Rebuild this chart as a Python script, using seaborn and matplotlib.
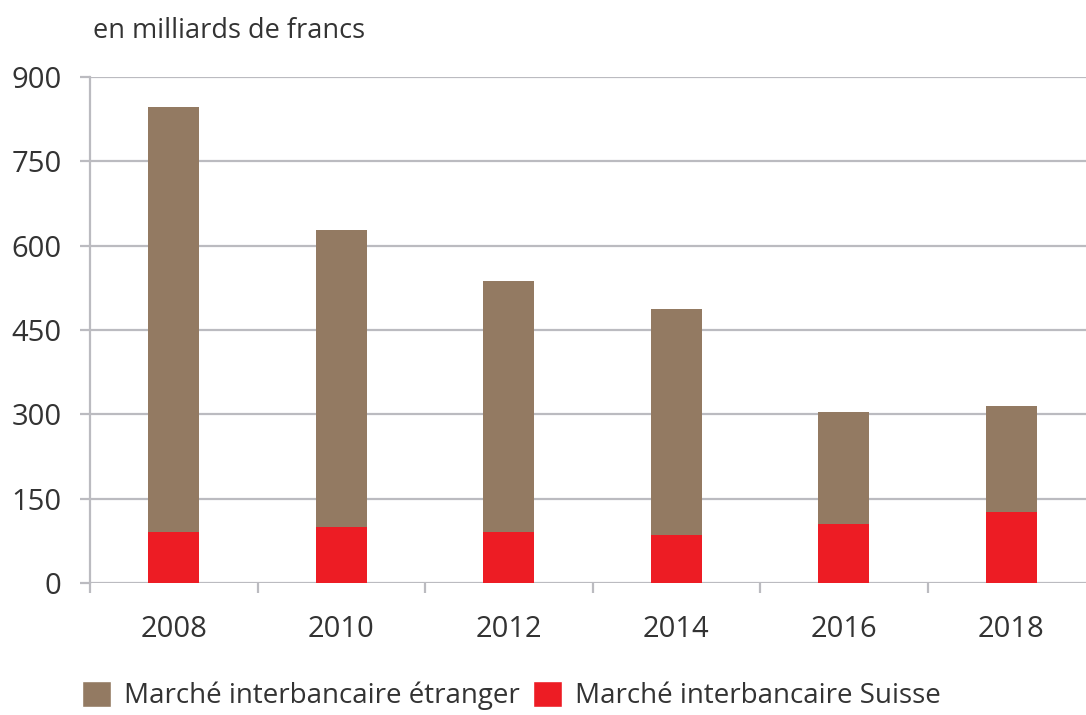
import matplotlib
matplotlib.use("Agg")
import matplotlib.pyplot as plt
import seaborn as sns
import pandas as pd
from matplotlib.patches import Patch

years = ["2008", "2010", "2012", "2014", "2016", "2018"]
suisse = [90, 99, 90, 85, 105, 126]
etranger = [756, 528, 447, 402, 199, 188]

BROWN = "#937a62"
RED = "#ed1c24"
GRID = "#bbbbc0"
TXT = "#333333"

df = pd.DataFrame({"year": years, "suisse": suisse, "etranger": etranger})
df["total"] = df["suisse"] + df["etranger"]

sns.set_style("white")
plt.rcParams["font.family"] = ["Open Sans", "DejaVu Sans"]

fig = plt.figure(figsize=(10.86, 7.15), dpi=100)
ax = fig.add_axes([90 / 1086, 1 - 583 / 715, 1005 / 1086, 506 / 715])

# stacked: total (brown) behind, suisse (red) in front
sns.barplot(data=df, x="year", y="total", color=BROWN, width=0.305,
            saturation=1, ax=ax, zorder=3)
sns.barplot(data=df, x="year", y="suisse", color=RED, width=0.305,
            saturation=1, ax=ax, zorder=4)
for p in ax.patches:
    p.set_edgecolor("none")

ax.set_ylim(0, 900)
ax.set_xlim(-0.5, 5.5)
ax.set_yticks(range(0, 901, 150))
ax.yaxis.grid(True, color=GRID, lw=1.6, zorder=0)
ax.set_axisbelow(True)
for s in ["top", "right", "bottom"]:
    ax.spines[s].set_visible(False)
ax.spines["left"].set_color(GRID)
ax.spines["left"].set_linewidth(1.6)
ax.set_xlabel("")
ax.set_ylabel("")

# category boundary ticks below the axis
ax.set_xticks([i - 0.5 for i in range(7)], minor=True)
ax.tick_params(axis="x", which="minor", bottom=True, length=7.5, width=1.6,
               color=GRID, direction="out")
ax.tick_params(axis="x", which="major", bottom=True, length=0, pad=23,
               labelsize=21, labelcolor=TXT)
ax.tick_params(axis="y", left=True, length=7.5, width=1.6, color=GRID,
               direction="out", pad=13, labelsize=21, labelcolor=TXT)

fig.text(93 / 1086, 1 - 38 / 715, "en milliards de francs", fontsize=19.5, color=TXT)

handles = [Patch(facecolor=BROWN, label="Marché interbancaire étranger"),
           Patch(facecolor=RED, label="Marché interbancaire Suisse")]
fig.legend(handles=handles, loc="upper left", bbox_to_anchor=(82 / 1086, 1 - 681 / 715),
           ncol=2, frameon=False, fontsize=20, labelcolor=TXT, borderpad=0,
           borderaxespad=0, handlelength=1.05, handleheight=1.05,
           handletextpad=0.45, columnspacing=0.5)

fig.savefig("out.png", dpi=100)
